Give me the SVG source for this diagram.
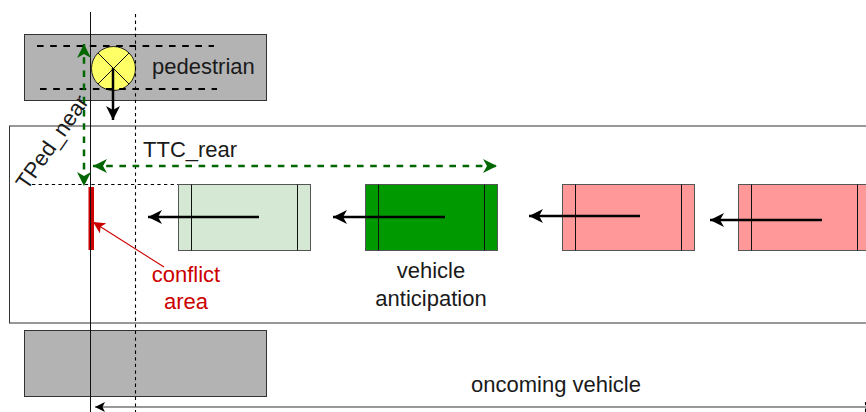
<svg xmlns="http://www.w3.org/2000/svg" width="866" height="412" viewBox="0 0 866 412">
<style>
text{font-family:"Liberation Sans",Arial,sans-serif;font-size:22px;fill:#1a1a1a}
.c{text-anchor:middle}
.road{fill:#b3b3b3;stroke:#333;stroke-width:1}
.car{stroke:#555;stroke-width:1}
.ax{stroke:#111;stroke-width:1;fill:none}
.k{stroke:#000;stroke-width:2.500;fill:none;marker-end:url(#blk)}
.g{stroke:#006600;stroke-width:2.500;stroke-dasharray:6.600 6.600;fill:none;marker-start:url(#grnS);marker-end:url(#grn)}
.d{stroke:#000;stroke-width:2.200;stroke-dasharray:6.600 6.600;fill:none}
.thin{stroke:#000;stroke-width:1.100;stroke-dasharray:3.300 3.300;fill:none}
</style>
<defs>
<marker id="blk" markerUnits="userSpaceOnUse" markerWidth="15" markerHeight="14" refX="14" refY="7" orient="auto"><path d="M0 0L14 7L0 14L4 7Z" fill="#000"/></marker>
<marker id="grn" markerUnits="userSpaceOnUse" markerWidth="15" markerHeight="14" refX="14" refY="7" orient="auto"><path d="M0 0L14 7L0 14L4 7Z" fill="#006600"/></marker>
<marker id="grnS" markerUnits="userSpaceOnUse" markerWidth="15" markerHeight="14" refX="1" refY="7" orient="auto"><path d="M15 0L1 7L15 14L11 7Z" fill="#006600"/></marker>
<marker id="red" markerUnits="userSpaceOnUse" markerWidth="13" markerHeight="12" refX="12" refY="6" orient="auto"><path d="M0 0L12 6L0 12L3 6Z" fill="#cc0000"/></marker>
<marker id="thinK" markerUnits="userSpaceOnUse" markerWidth="11" markerHeight="10" refX="10" refY="5" orient="auto"><path d="M0 0L10 5L0 10L2.500 5Z" fill="#000"/></marker>
</defs>
<g id="road-main"><rect x="9.500" y="126" width="870" height="197" fill="#fff" stroke="#333"/></g>
<g id="sidewalk-top"><rect class="road" x="24.500" y="34.500" width="242" height="66"/></g>
<g id="sidewalk-bottom"><rect class="road" x="24.500" y="330.500" width="242" height="66"/></g>
<g id="conflict-area"><rect x="88.500" y="187" width="5.500" height="63" fill="#cc0000"/></g>
<g id="vehicle-1"><rect class="car" x="178.500" y="184.500" width="132" height="66" fill="#d5e8d4"/><path class="ax" d="M191.500 184.500V250.500M297.500 184.500V250.500"/></g>
<g id="vehicle-anticipation"><rect class="car" x="365.500" y="184.500" width="132" height="66" fill="#009900"/><path class="ax" d="M378.500 184.500V250.500M484.500 184.500V250.500"/><text class="c" x="431" y="278">vehicle</text><text class="c" x="431" y="306">anticipation</text></g>
<g id="vehicle-3"><rect class="car" x="562.500" y="184.500" width="132" height="66" fill="#ff9999"/><path class="ax" d="M575.500 184.500V250.500M681.500 184.500V250.500"/></g>
<g id="vehicle-4"><rect class="car" x="738.500" y="184.500" width="132" height="66" fill="#ff9999"/><path class="ax" d="M751.500 184.500V250.500M857.500 184.500V250.500"/></g>
<g id="pedestrian"><circle cx="113.500" cy="68.500" r="22" fill="#ffff66" stroke="#222"/><path class="ax" d="M98 53L129 84M129 53L98 84"/><text x="152" y="74">pedestrian</text></g>
<g id="connectors">
<path class="ax" d="M90.500 12V412"/>
<path class="thin" d="M135.500 14V412"/>
<path class="thin" d="M32 184.500H178"/>
<path class="thin" d="M865.500 402V412"/>
<path class="d" d="M37 46H214"/>
<path class="d" d="M40 89H217"/>
<path class="g" d="M84 44V186"/>
<path class="g" d="M93 166H497"/>
<path class="k" d="M113 68V120"/>
<path class="k" d="M259 217H148"/>
<path class="k" d="M445 217H333"/>
<path class="k" d="M640 216H529"/>
<path class="k" d="M822 220H710"/>
<path d="M164 267L93 222" stroke="#cc0000" stroke-width="1.100" fill="none" marker-end="url(#red)"/>
<path d="M866 407H95" stroke="#333" stroke-width="1.100" fill="none" marker-end="url(#thinK)"/>
</g>
<g id="labels">
<text x="143" y="157">TTC_rear</text>
<text transform="translate(27 191) rotate(-55)">TPed_near</text>
<text class="c" x="186" y="282" style="fill:#cc0000">conflict</text>
<text class="c" x="186" y="309" style="fill:#cc0000">area</text>
<text class="c" x="556" y="392">oncoming vehicle</text>
</g>
</svg>
